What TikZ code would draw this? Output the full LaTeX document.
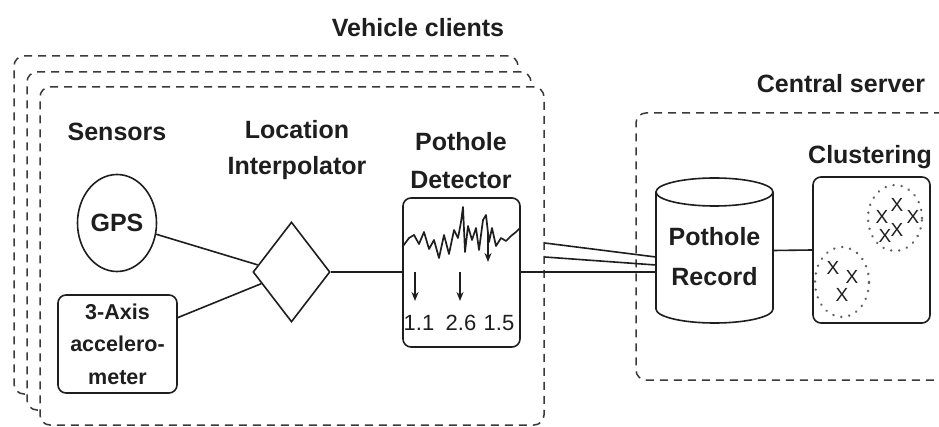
\documentclass[tikz,border=0pt]{standalone}
\usepackage{fontspec}
\setmainfont{Liberation Sans}
\usetikzlibrary{shapes.geometric,calc,arrows.meta}
\definecolor{ink}{HTML}{1E1E1E}
\definecolor{dashc}{HTML}{3A3A3A}
\definecolor{dotc}{HTML}{606060}
\begin{document}
\begin{tikzpicture}[x=1pt,y=1pt,
  title/.style={font=\fontsize{25}{37}\selectfont\bfseries, text=ink, align=center, inner sep=0pt},
  vbox/.style={draw=dashc, line width=1.5pt, dash pattern=on 8pt off 6pt, rounded corners=10pt, fill=white, inner sep=0pt},
  conn/.style={draw=ink, line width=1.6pt},
  solidbox/.style={draw=ink, line width=1.6pt, rounded corners=8pt, fill=white, inner sep=0pt},
  clusterring/.style={draw=dotc, line width=2.6pt, dash pattern=on 0.1pt off 8pt, line cap=round},
  xmark/.style={font=\fontsize{19}{19}\selectfont, text=ink, inner sep=0pt},
  num/.style={font=\fontsize{22}{22}\selectfont, text=ink, inner sep=0pt},
  downarrow/.style={draw=ink, line width=1.6pt, -{Stealth[length=9pt,width=7pt]}}
]
\clip (0,0) rectangle (939,-427);
\fill[white] (0,0) rectangle (939,-427);

% vehicle client boxes (back to front)
\node[vbox, minimum width=504pt, minimum height=338pt] (vc3) at (266,-225) {};
\node[vbox, minimum width=504pt, minimum height=338pt] (vc2) at (279,-241) {};
\node[vbox, minimum width=504pt, minimum height=338pt] (vc1) at (292,-256) {};
\node[title] (vctitle) at (418,-28) {Vehicle clients};

% central server box
\node[vbox, minimum width=330pt, minimum height=267pt] (cs) at (801,-246.5) {};
\node[title] (cstitle) at (841,-84) {Central server};

% sensors
\node[title] (sens) at (117,-132) {Sensors};
\node[ellipse, draw=ink, line width=1.6pt, minimum width=79pt, minimum height=97pt, inner sep=0pt,
      font=\fontsize{25}{25}\selectfont\bfseries, text=ink] (gps) at (117,-223) {GPS};
\node[solidbox, minimum width=119pt, minimum height=98pt, align=center,
      font=\fontsize{21.5}{32.5}\selectfont\bfseries, text=ink] (acc) at (117.5,-344) {3-Axis\\accelero-\\meter};

% location interpolator
\node[title, font=\fontsize{25}{36}\selectfont\bfseries] (litl) at (297,-150) {Location\\Interpolator};
\node[diamond, draw=ink, line width=1.6pt, fill=white, minimum width=77pt, minimum height=100pt, inner sep=0pt, aspect=0.77] (dia) at (291.5,-272) {};

% pothole detector
\node[title, font=\fontsize{25}{38}\selectfont\bfseries] (pdtl) at (461,-161) {Pothole\\Detector};
\node[solidbox, minimum width=117pt, minimum height=149pt] (det) at (461.5,-272.5) {};
\draw[ink, line width=1.7pt, line join=round]
  (403,-246) -- (409,-238) -- (414,-235) -- (419,-244) -- (424,-232) -- (429,-249)
  -- (434,-240) -- (439,-258) -- (444,-235) -- (449,-254) -- (454,-230) -- (458,-238)
  -- (461,-222) -- (463,-207) -- (465,-252) -- (468,-226) -- (472,-240) -- (476,-228)
  -- (479,-250) -- (483,-220) -- (486,-215) -- (489,-242) -- (492,-228) -- (496,-246)
  -- (501,-238) -- (506,-241) -- (511,-236) -- (516,-232) -- (520,-228);
\draw[downarrow] (488,-232) -- (488,-262);
\draw[downarrow] (415,-272) -- (415,-301);
\draw[downarrow] (460,-272) -- (460,-301);
\node[num] (n1) at (419,-323) {1.1};
\node[num] (n2) at (461,-323) {2.6};
\node[num] (n3) at (499,-323) {1.5};

% pothole record (cylinder)
\node[minimum width=117pt, minimum height=145pt, inner sep=0pt] (rec) at (714.5,-250.5) {};
\draw[ink, line width=1.6pt, fill=white] (656,-192) -- (656,-309)
  arc[start angle=180, end angle=360, x radius=58.5, y radius=14] -- (773,-192);
\draw[ink, line width=1.6pt] (714.5,-192) ellipse [x radius=58.5, y radius=14];
\node[title, font=\fontsize{25}{40}\selectfont\bfseries] (rectxt) at (714.5,-257) {Pothole\\Record};

% clustering
\node[title] (cltl) at (870,-157) {Clustering};
\node[solidbox, minimum width=117pt, minimum height=146pt] (clu) at (871.5,-250) {};
\draw[clusterring] (895,-218) ellipse [x radius=27, y radius=33];
\draw[clusterring] (842,-282) ellipse [x radius=27, y radius=35];
\node[xmark] (x1) at (882,-217) {X};
\node[xmark] (x2) at (897,-205) {X};
\node[xmark] (x3) at (913,-217) {X};
\node[xmark] (x4) at (885,-236) {X};
\node[xmark] (x5) at (897,-230) {X};
\node[xmark] (x6) at (833,-268) {X};
\node[xmark] (x7) at (852,-277) {X};
\node[xmark] (x8) at (842,-295) {X};

% connectors
\draw[conn] (gps.-16) -- ($(dia.west)!0.14!(dia.north)$);
\draw[conn] ($(acc.north east)!0.235!(acc.south east)$) -- ($(dia.west)!0.23!(dia.south)$);
\draw[conn] (dia.east) -- (det.west |- dia.east);
\draw[conn] (det.east |- dia.east) -- (dia.east -| rec.west);
\draw[conn] ($(vc1.east)+(0,13)$) -- ($(rec.west)+(0,-6.5)$);
\draw[conn] ($(vc1.east)+(0,-1)$) -- ($(rec.west)+(0,-14.5)$);
\draw[conn] (rec.east) -- (clu.west);
\end{tikzpicture}
\end{document}
